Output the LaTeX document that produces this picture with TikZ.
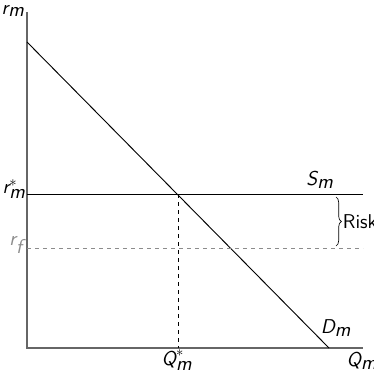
\documentclass[tikz,border=0pt]{standalone}
\usetikzlibrary{decorations.pathreplacing}
\newcommand{\sv}[1]{\textsf{\slshape #1}}
\begin{document}
\begin{tikzpicture}[x=0.75pt,y=-0.75pt,
  axis/.style={draw=black!60,line width=1.1pt},
  curve/.style={draw=black,line width=0.7pt},
  guide/.style={draw=black,dashed,line width=0.6pt},
  lbl/.style={inner sep=0pt,font=\fontsize{15}{17}\selectfont}]
\useasboundingbox (0,0) rectangle (374,372);
\coordinate (O) at (27,348);
\coordinate (Ytop) at (27,12);
\coordinate (Xend) at (363,348);
\coordinate (Dtop) at (27,42);
\coordinate (Dbot) at (329,348);
\coordinate (Sl) at (27,194);
\coordinate (Sr) at (363,194);
\coordinate (Fl) at (27,248);
\coordinate (Fr) at (363,248);
\coordinate (E) at (178,194);
\coordinate (Eb) at (178,348);
\draw[axis] (Ytop) -- (O) -- (Xend);
\draw[curve] (Dtop) -- (Dbot);
\draw[curve] (Sl) -- (Sr);
\draw[guide,draw=black!45] (Fl) -- (Fr);
\draw[guide] (E) -- (Eb);
\draw[decorate,decoration={brace,amplitude=4pt},line width=0.5pt] (336,197) -- coordinate[xshift=4pt] (bt) (336,246);
\node[lbl,anchor=west,xshift=1pt] (risk) at (bt) {\sffamily Risk};
\node[lbl] (rm) at (13,11) {$\sv{r}_{\sv{m}}$};
\node[lbl] (rms) at (14,189) {$\sv{r}^{*}_{\sv{m}}$};
\node[lbl,text=black!45] (rf) at (16,245) {$\sv{r}_{\sv{f}}$};
\node[lbl] (sm) at (320,180) {$\sv{S}_{\sv{m}}$};
\node[lbl] (dm) at (336,328) {$\sv{D}_{\sv{m}}$};
\node[lbl] (qms) at (177,360) {$\sv{Q}^{*}_{\sv{m}}$};
\node[lbl] (qm) at (362,361) {$\sv{Q}_{\sv{m}}$};
\end{tikzpicture}
\end{document}
